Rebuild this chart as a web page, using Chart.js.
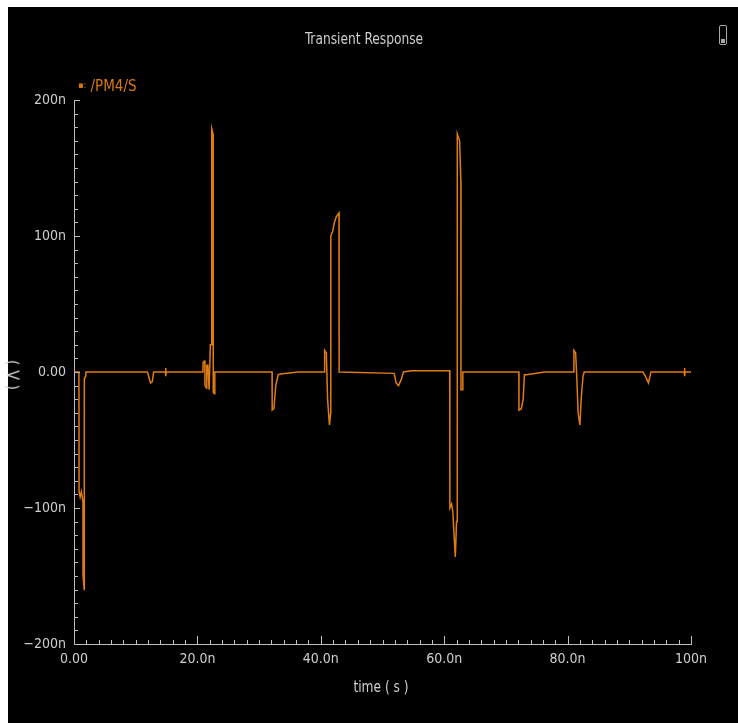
<!DOCTYPE html>
<html>
<head>
<meta charset="utf-8">
<title>Transient Response</title>
<script src="https://cdn.jsdelivr.net/npm/chart.js@4.4.1/dist/chart.umd.min.js"></script>
<style>
    html, body {
        margin: 0;
        padding: 0;
        width: 738px;
        height: 723px;
        overflow: hidden;
        background: #ffffff;
    }
    #frame {
        position: absolute;
        left: 8px;
        top: 7px;
        width: 730px;
        height: 716px;
        background: #000000;
    }
    #plot {
        position: absolute;
        left: 0;
        top: 0;
    }
    .label {
        position: absolute;
        font-family: 'Liberation Sans Narrow', 'DejaVu Sans Condensed', 'Liberation Sans', sans-serif;
        color: #cfcfcf;
        white-space: nowrap;
    }
    #title {
        left: 356px;
        top: 22px;
        font-size: 16px;
        transform: translateX(-50%) scaleX(0.85);
    }
    #legend {
        left: 70px;
        top: 70px;
        font-size: 15px;
        color: #d9780f;
    }
    #legend .mark {
        font-size: 9px;
        vertical-align: 3px;
    }
    #xlabel {
        left: 373px;
        top: 670px;
        font-size: 16px;
        transform: translateX(-50%) scaleX(0.85);
    }
    #ylabel {
        left: 5px;
        top: 368px;
        font-size: 16px;
        transform: translate(-50%, -50%) rotate(90deg);
    }
    #icon {
        position: absolute;
        left: 711px;
        top: 18px;
        width: 6px;
        height: 18px;
        border: 1px solid #a8a8a8;
        border-radius: 2px;
    }
    #icon::after {
        content: '';
        position: absolute;
        left: 1px;
        bottom: 1px;
        width: 4px;
        height: 4px;
        background: #a8a8a8;
    }
</style>
</head>
<body>
<div id="frame">
    <canvas id="plot" width="730" height="716"></canvas>
    <div id="title" class="label">Transient Response</div>
    <div id="legend" class="label"><span class="mark">&#9642;:</span> /PM4/S</div>
    <div id="xlabel" class="label">time ( s )</div>
    <div id="ylabel" class="label">( V )</div>
    <div id="icon"></div>
</div>
<script>
// time in ns, signal in n (nano units of the plotted quantity)
const timeNs = [
    0, 0.8, 0.82, 1.0, 1.2, 1.45, 1.47, 1.65, 1.67, 1.9, 1.92,
    11.9, 12.1, 12.4, 12.7, 12.9,
    14.8, 14.85, 14.9, 14.95,
    20.9, 20.92, 21.2, 21.22, 21.5, 21.52, 21.7, 21.9, 22.1, 22.3, 22.32, 22.55, 22.57, 22.8, 22.82,
    32.1, 32.12, 32.4, 32.7, 33.1, 33.5, 36.3,
    40.6, 40.62, 40.9, 41.1, 41.4, 41.6, 41.62, 41.9, 42.2, 42.5, 42.95, 42.97,
    51.9, 52.2, 52.6, 53.0, 53.4, 54.7,
    60.9, 60.92, 61.2, 61.4, 61.6, 61.8, 62.0, 62.1, 62.12, 62.5, 62.7, 62.72, 63.0, 63.02,
    72.1, 72.12, 72.5, 72.8, 73.0, 73.3, 76.3,
    81.0, 81.02, 81.3, 81.5, 81.7, 82.0, 82.2, 82.5, 82.7,
    92.2, 92.6, 93.1, 93.5,
    98.9, 98.95, 99.0, 99.05,
    100,
];

const signalN = [
    0, 0, -88, -92, -88, -95, -150, -160, -5, -3, 0,
    0, -3, -8, -7, 0,
    0, 3, -3, 0,
    0, 7, 8, -10, -12, 5, 5, -13, 20, 20, 179, 175, -15, -16, 0,
    0, -28, -27, -10, -2, -1.5, 0,
    0, 16, 14, -20, -39, -30, 100, 103, 110, 114, 117, 0,
    -1, -8, -10, -6, 0, 1,
    1, -100, -97, -103, -120, -136, -110, -110, 175, 170, 140, -13, -13, 0,
    0, -28, -27, -20, -2, -2, 0,
    0, 16, 14, -5, -30, -39, -20, -3, 0,
    0, -3, -8, 0,
    0, 3, -3, 0,
    0,
];

const xTickValues = [0, 20, 40, 60, 80, 100];
const xTickLabels = ['0.00', '20.0n', '40.0n', '60.0n', '80.0n', '100n'];
const yTickValues = [-200, -100, 0, 100, 200];
const yTickLabels = ['\u2212200n', '\u2212100n', '0.00', '100n', '200n'];

const colors = {
    trace: '#e07c12',
    axis: '#bcbcbc',
    text: '#cfcfcf',
};

const tickFont = {
    family: "'Liberation Sans Narrow', 'DejaVu Sans Condensed', 'Liberation Sans', sans-serif",
    size: 14,
};

// minor/major tick marks drawn inside the plot, like the simulator viewer
const innerTicks = {
    id: 'innerTicks',
    afterDraw(chart) {
        const { ctx, scales: { x, y } } = chart;
        ctx.save();
        ctx.strokeStyle = colors.axis;
        ctx.lineWidth = 1;
        ctx.beginPath();
        for (let i = 0; i <= 50; i++) {
            const px = Math.round(x.getPixelForValue(i * 2)) + 0.5;
            const len = i % 10 === 0 ? 8 : 4;
            ctx.moveTo(px, y.bottom);
            ctx.lineTo(px, y.bottom - len);
        }
        for (let i = 0; i <= 40; i++) {
            const py = Math.round(y.getPixelForValue(-200 + i * 10)) + 0.5;
            const len = i % 10 === 0 ? 6 : 4;
            ctx.moveTo(x.left, py);
            ctx.lineTo(x.left + len, py);
        }
        ctx.stroke();
        ctx.restore();
    },
};

function buildTransientChart(canvas) {
    return new Chart(canvas, {
        type: 'line',
        data: {
            datasets: [
                {
                    label: '/PM4/S',
                    data: timeNs.map((t, i) => ({ x: t, y: signalN[i] })),
                    borderColor: colors.trace,
                    borderWidth: 1.5,
                    pointRadius: 0,
                    tension: 0,
                    fill: false,
                },
            ],
        },
        options: {
            responsive: false,
            animation: false,
            events: [],
            layout: {
                padding: { left: 0, top: 93, right: 47, bottom: 39 },
            },
            scales: {
                x: {
                    type: 'linear',
                    min: 0,
                    max: 100,
                    afterFit(scale) {
                        scale.height = 40;
                    },
                    afterBuildTicks(scale) {
                        scale.ticks = xTickValues.map((v) => ({ value: v }));
                    },
                    grid: { display: false, drawTicks: false },
                    border: { display: true, color: colors.axis, width: 1 },
                    ticks: {
                        color: colors.text,
                        font: tickFont,
                        padding: 7,
                        maxRotation: 0,
                        callback(value) {
                            return xTickLabels[xTickValues.indexOf(value)];
                        },
                    },
                },
                y: {
                    type: 'linear',
                    min: -200,
                    max: 200,
                    afterFit(scale) {
                        scale.width = 66;
                    },
                    afterBuildTicks(scale) {
                        scale.ticks = yTickValues.map((v) => ({ value: v }));
                    },
                    grid: { display: false, drawTicks: false },
                    border: { display: true, color: colors.axis, width: 1 },
                    ticks: {
                        color: colors.text,
                        font: tickFont,
                        padding: 8,
                        callback(value) {
                            return yTickLabels[yTickValues.indexOf(value)];
                        },
                    },
                },
            },
            plugins: {
                legend: { display: false },
                tooltip: { enabled: false },
            },
        },
        plugins: [innerTicks],
    });
}

buildTransientChart(document.getElementById('plot'));
</script>
</body>
</html>
